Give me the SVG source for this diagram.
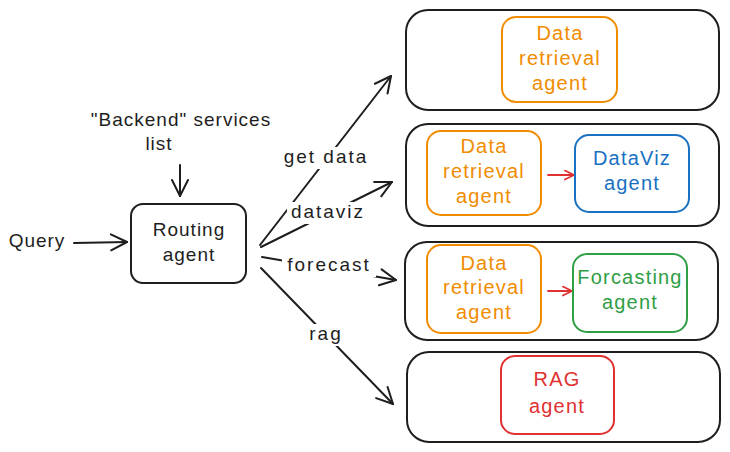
<svg xmlns="http://www.w3.org/2000/svg" width="730" height="452" viewBox="0 0 730 452">
<style>
text{font-family:"Liberation Sans","DejaVu Sans",sans-serif;font-size:19px;letter-spacing:1px;text-anchor:middle;dominant-baseline:middle}
.lb{letter-spacing:2px}
.k{fill:#1e1e1e}.o{fill:#f08c00}.b{fill:#1971c2}.g{fill:#2f9e44}.r{fill:#e03131}
.o,.b,.g,.r{font-size:20px;letter-spacing:1.2px}
.cont{fill:none;stroke:#1e1e1e;stroke-width:2}
.bo{fill:none;stroke:#f08c00;stroke-width:2}
.bb{fill:none;stroke:#1971c2;stroke-width:2}
.bg{fill:none;stroke:#2f9e44;stroke-width:2}
.br{fill:none;stroke:#e03131;stroke-width:2}
.ln{fill:none;stroke:#1e1e1e;stroke-width:2;stroke-linecap:round}
.lr{fill:none;stroke:#e03131;stroke-width:1.8;stroke-linecap:round}
.lbg{fill:#fff}
</style>
<defs>
<marker id="ah" viewBox="0 0 20 20" refX="18" refY="10" markerWidth="20" markerHeight="20" markerUnits="userSpaceOnUse" orient="auto">
<path d="M2 2 L18 10 L2 18" fill="none" stroke="#1e1e1e" stroke-width="2" stroke-linecap="round" stroke-linejoin="round"/>
</marker>
<marker id="ahr" viewBox="0 0 12 12" refX="11" refY="6" markerWidth="11" markerHeight="11" markerUnits="userSpaceOnUse" orient="auto">
<path d="M1 1 L11 6 L1 11" fill="none" stroke="#e03131" stroke-width="1.8" stroke-linecap="round" stroke-linejoin="round"/>
</marker>
</defs>
<rect width="730" height="452" fill="#fff"/>

<g id="connectors">
<line class="ln" x1="74" y1="243" x2="127" y2="242" marker-end="url(#ah)"/>
<line class="ln" x1="180" y1="165" x2="180" y2="196" marker-end="url(#ah)"/>
<line class="ln" x1="260" y1="245" x2="391" y2="76" marker-end="url(#ah)"/>
<line class="ln" x1="261" y1="247" x2="392" y2="182" marker-end="url(#ah)"/>
<line class="ln" x1="262" y1="257" x2="396" y2="280" marker-end="url(#ah)"/>
<line class="ln" x1="261" y1="268" x2="393" y2="404" marker-end="url(#ah)"/>
<rect class="lbg" x="277" y="147" width="98" height="22"/>
<text class="k lb" x="326" y="158">get data</text>
<rect class="lbg" x="287" y="202" width="82" height="22"/>
<text class="k lb" x="328" y="213">dataviz</text>
<rect class="lbg" x="282" y="255" width="94" height="22"/>
<text class="k lb" x="329" y="266">forecast</text>
<rect class="lbg" x="305" y="324" width="40" height="22"/>
<text class="k lb" x="326" y="335">rag</text>
<line class="lr" x1="548" y1="175" x2="574" y2="175" marker-end="url(#ahr)"/>
<line class="lr" x1="548" y1="291" x2="572" y2="291" marker-end="url(#ahr)"/>
</g>

<g id="query"><text class="k" x="37" y="242">Query</text></g>
<g id="backend"><text class="k" x="181" y="121">"Backend" services</text><text class="k" x="159" y="145">list</text></g>
<g id="routing">
<rect class="cont" x="131" y="204" width="115" height="79" rx="12"/>
<text class="k" x="189" y="231">Routing</text><text class="k" x="189" y="256">agent</text>
</g>

<g id="c1">
<rect class="cont" x="406" y="10" width="313" height="100" rx="22"/>
<g id="dr1"><rect class="bo" x="502" y="17" width="115" height="85" rx="14"/>
<text class="o" x="560" y="35">Data</text><text class="o" x="560" y="60">retrieval</text><text class="o" x="560" y="85">agent</text></g>
</g>
<g id="c2">
<rect class="cont" x="406" y="124" width="313" height="102" rx="22"/>
<g id="dr2"><rect class="bo" x="427" y="131" width="114" height="84" rx="14"/>
<text class="o" x="484" y="148">Data</text><text class="o" x="484" y="173">retrieval</text><text class="o" x="484" y="198">agent</text></g>
<g id="dv"><rect class="bb" x="575" y="135" width="114" height="77" rx="14"/>
<text class="b" x="632" y="160">DataViz</text><text class="b" x="632" y="185">agent</text></g>
</g>
<g id="c3">
<rect class="cont" x="405" y="242" width="313" height="98" rx="22"/>
<g id="dr3"><rect class="bo" x="427" y="245" width="114" height="88" rx="14"/>
<text class="o" x="484" y="265">Data</text><text class="o" x="484" y="289">retrieval</text><text class="o" x="484" y="314">agent</text></g>
<g id="fc"><rect class="bg" x="573" y="254" width="114" height="78" rx="14"/>
<text class="g" x="630" y="279">Forcasting</text><text class="g" x="630" y="304">agent</text></g>
</g>
<g id="c4">
<rect class="cont" x="407" y="352" width="313" height="90" rx="22"/>
<g id="rag"><rect class="br" x="501" y="356" width="113" height="78" rx="14"/>
<text class="r" x="557" y="381">RAG</text><text class="r" x="557" y="408">agent</text></g>
</g>
</svg>
